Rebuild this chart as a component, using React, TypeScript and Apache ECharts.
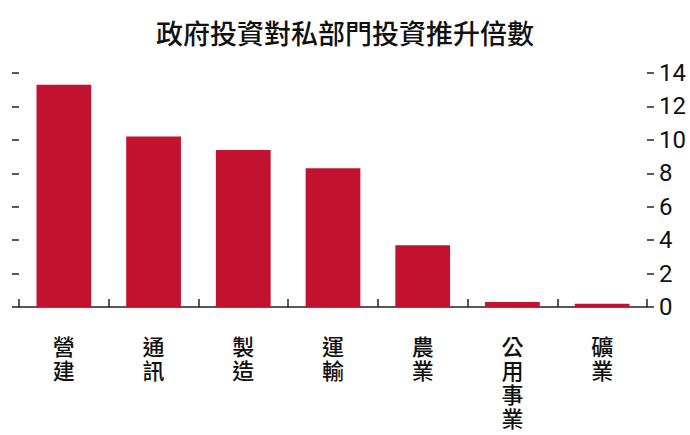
import React, { useEffect, useRef } from "react";
import * as echarts from "echarts";

const sectors = ["營建", "通訊", "製造", "運輸", "農業", "公用事業", "礦業"];
const multipliers = [13.3, 10.2, 9.4, 8.3, 3.7, 0.3, 0.2];
const yTicks = [0, 2, 4, 6, 8, 10, 12, 14];

const App: React.FC = () => {
  const chartRef = useRef<HTMLDivElement>(null);

  useEffect(() => {
    if (!chartRef.current) return;
    const chart = echarts.init(chartRef.current, undefined, { renderer: "svg" });

    const option: echarts.EChartsOption = {
      animation: false,
      backgroundColor: "#ffffff",
      title: {
        text: "政府投資對私部門投資推升倍數",
        left: "center",
        top: 14,
        textStyle: {
          fontFamily: "Noto Sans CJK TC",
          fontSize: 27,
          fontWeight: 500,
          color: "#111111",
        },
      },
      grid: { left: 19, right: 43, top: 73, bottom: 128 },
      xAxis: {
        type: "category",
        data: sectors,
        axisLine: { show: true, lineStyle: { color: "#222222", width: 1.5 } },
        axisTick: {
          show: true,
          inside: true,
          length: 8,
          alignWithLabel: false,
          lineStyle: { color: "#222222", width: 1.5 },
        },
        axisLabel: {
          interval: 0,
          margin: 26,
          fontFamily: "Noto Sans CJK TC",
          fontSize: 22,
          fontWeight: 500,
          lineHeight: 24,
          color: "#111111",
          verticalAlign: "top",
          formatter: (v: string) => v.split("").join("\n"),
        },
      },
      yAxis: [
        {
          type: "value",
          position: "left",
          min: 0,
          max: yTicks[yTicks.length - 1],
          interval: 2,
          axisLine: { show: false },
          axisTick: { show: true, length: 7, lineStyle: { color: "#222222", width: 1.5 } },
          axisLabel: { show: false },
          splitLine: { show: false },
        },
        {
          type: "value",
          position: "right",
          min: 0,
          max: yTicks[yTicks.length - 1],
          interval: 2,
          axisLine: { show: false },
          axisTick: { show: true, length: 7, lineStyle: { color: "#222222", width: 1.5 } },
          axisLabel: {
            margin: 12,
            fontFamily: "Liberation Sans Narrow, Roboto, sans-serif",
            fontSize: 24,
            color: "#111111",
          },
          splitLine: { show: false },
        },
      ],
      series: [
        {
          type: "bar",
          data: multipliers,
          barWidth: "61%",
          itemStyle: { color: "#c2122f" },
        },
      ],
    };

    chart.setOption(option);
    return () => {
      chart.dispose();
    };
  }, []);

  return (
    <div
      ref={chartRef}
      style={{ position: "fixed", left: 0, top: 0, width: 690, height: 435 }}
    />
  );
};

export default App;
